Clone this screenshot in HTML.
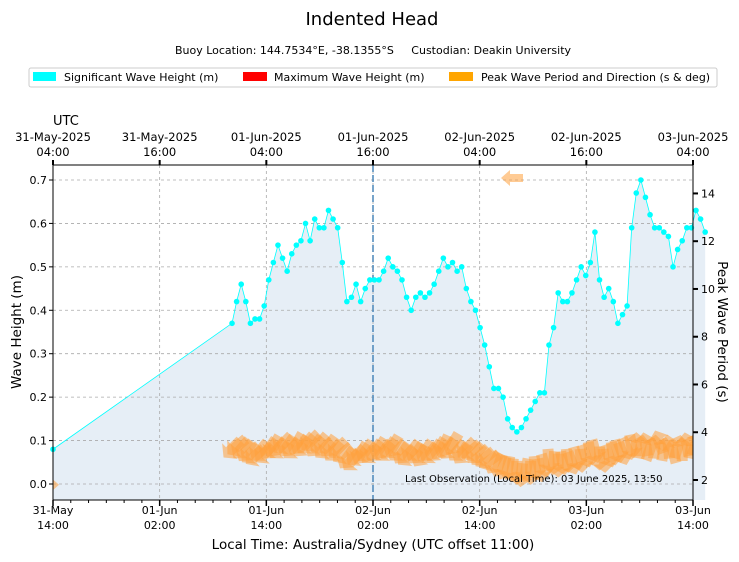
<!DOCTYPE html>
<html><head><meta charset="utf-8"><style>
html,body{margin:0;padding:0;background:#fff;}
svg{display:block;font-family:"DejaVu Sans","Liberation Sans",sans-serif;}
</style></head><body>
<svg id="chart" width="739" height="562" viewBox="0 0 739 562" xmlns="http://www.w3.org/2000/svg">
<text x="372" y="25" font-size="18" text-anchor="middle">Indented Head</text>
<text x="373" y="54" font-size="11" text-anchor="middle">Buoy Location: 144.7534°E, -38.1355°S &#160;&#160;&#160; Custodian: Deakin University</text>
<g>
<rect x="29" y="68" width="688" height="19" rx="2" fill="#fff" stroke="#ccc"/>
<rect x="33" y="72" width="23" height="9" fill="#00ffff"/>
<text x="64" y="81" font-size="11">Significant Wave Height (m)</text>
<rect x="243" y="72" width="24" height="9" fill="#ff0000"/>
<text x="274" y="81" font-size="11">Maximum Wave Height (m)</text>
<rect x="449" y="72" width="24" height="9" fill="#ffa500"/>
<text x="481" y="81" font-size="11">Peak Wave Period and Direction (s &amp; deg)</text>
</g>
<text x="53" y="125" font-size="13">UTC</text>
<g id="plot"></g>
</svg>
<script>
const heights = [0.08,
0.37,0.42,0.46,0.42,0.37,0.38,0.38,0.41,0.47,0.51,0.55,0.52,0.49,0.53,0.55,0.56,0.60,0.56,0.61,0.59,0.59,0.63,0.61,0.59,0.51,0.42,0.43,0.46,0.42,0.45,0.47,0.47,0.47,0.49,0.52,0.50,0.49,0.47,0.43,0.40,0.43,0.44,0.43,0.44,0.46,0.49,0.52,0.50,0.51,0.49,0.50,
0.45,0.42,0.40,0.36,0.32,0.27,0.22,0.22,0.20,0.15,0.13,0.12,0.13,0.15,0.17,0.19,0.21,0.21,0.32,0.36,0.44,0.42,0.42,0.44,0.47,0.50,0.48,0.51,0.58,0.47,0.43,0.45,0.42,0.37,0.39,0.41,0.59,0.67,0.70,0.66,0.62,0.59,0.59,0.58,0.57,0.50,0.54,0.56,0.59,0.59,0.63,0.61,0.58];
const periods = [1.8,
3.3,3.4,3.3,3.2,3.1,3.0,3.2,3.1,3.3,3.4,3.3,3.5,3.4,3.3,3.5,3.4,3.5,3.6,3.4,3.5,3.3,3.4,3.2,3.3,3.1,2.9,2.8,3.0,3.1,3.2,3.1,3.2,3.3,3.2,3.3,3.4,3.2,3.1,3.0,3.2,3.1,3.0,3.2,3.1,3.2,3.3,3.4,3.3,3.5,3.2,3.1,
3.3,3.2,3.1,3.0,2.9,2.8,2.7,2.6,2.5,2.5,2.4,2.3,2.2,2.4,2.3,2.5,2.4,2.6,2.8,2.7,2.6,2.7,2.8,2.7,2.9,2.8,3.0,3.1,3.2,2.9,2.8,3.0,3.1,3.2,3.1,3.3,3.4,3.5,3.4,3.5,3.3,3.4,3.6,3.3,3.4,3.2,3.4,3.3,3.5,3.4,3.5,3.4];
const directions = [90,
225,230,220,215,225,230,220,225,215,210,220,225,215,220,210,215,220,225,215,220,225,215,220,225,230,215,220,225,210,215,220,215,210,220,215,210,220,215,225,220,215,210,215,220,215,210,205,215,210,220,215,
225,230,220,225,230,235,210,200,195,190,185,180,185,190,180,175,170,165,175,185,180,170,175,160,165,175,160,170,165,180,175,160,170,165,160,155,170,0,10,350,20,5,340,10,355,345,15,0,350,10,20,5];
const hwDataStartHour = 0;
const clusterStartHour = 20.14;
const sampleIntervalHours = 0.5168;
const yTicks = [0.0,0.1,0.2,0.3,0.4,0.5,0.6,0.7];
const yTickLabels = ["0.0","0.1","0.2","0.3","0.4","0.5","0.6","0.7"];
const y2Ticks = [2,4,6,8,10,12,14];
const xTickHours = [0,12,24,36,48,60,72];
const xTickLabels = [["31-May","14:00"],["01-Jun","02:00"],["01-Jun","14:00"],["02-Jun","02:00"],["02-Jun","14:00"],["03-Jun","02:00"],["03-Jun","14:00"]];
const topTickLabels = [["31-May-2025","04:00"],["31-May-2025","16:00"],["01-Jun-2025","04:00"],["01-Jun-2025","16:00"],["02-Jun-2025","04:00"],["02-Jun-2025","16:00"],["03-Jun-2025","04:00"]];
const NS="http://www.w3.org/2000/svg";
const X0=53,X1=693,YT=165,YB=500;
const xs=h=>X0+h*(X1-X0)/72;
const ys=v=>484-v*434.3;
const ys2=p=>480-(p-2)*23.88;
const plot=document.getElementById('plot');
function el(tag,attrs,parent){const e=document.createElementNS(NS,tag);for(const k in attrs)e.setAttribute(k,attrs[k]);(parent||plot).appendChild(e);return e;}
const times=heights.map((_,i)=>i===0?hwDataStartHour:clusterStartHour+(i-1)*sampleIntervalHours);
let d=`M${xs(times[0])},${YB}`;times.forEach((t,i)=>d+=`L${xs(t)},${ys(heights[i])}`);d+=`L${xs(times[times.length-1])},${YB}Z`;
let f=el('path',{d:d,fill:'#e6eef6'});


yTicks.forEach(v=>{let g=el('line',{x1:X0,x2:X1,y1:ys(v),y2:ys(v),stroke:'#aaa','stroke-dasharray':'3,3','stroke-width':0.8});

});
xTickHours.forEach(h=>{let g=el('line',{x1:xs(h),x2:xs(h),y1:YT,y2:YB,stroke:'#aaa','stroke-dasharray':'3,3','stroke-width':0.8});

});
let nl=el('line',{x1:xs(36),x2:xs(36),y1:YT,y2:YB,stroke:'#4a86b8','stroke-dasharray':'7,3','stroke-width':1.5});


const clip=el('clipPath',{id:'pc'});el('rect',{x:X0,y:YT,width:X1-X0,height:YB-YT},clip);
const ag=el('g',{'clip-path':'url(#pc)'});
function arrow(cx,cy,ang,len,w,name,parent){
 const g=el('g',{transform:`translate(${cx},${cy}) rotate(${ang})`,opacity:0.55},parent);
 
 
 el('polygon',{points:`${-w/2},${len/2} ${w/2},${len/2} ${w/2},${-len/2+9} ${w},${-len/2+9} 0,${-len/2} ${-w},${-len/2+9} ${-w/2},${-len/2+9}`,fill:'#ffa03c'},g);
}
times.forEach((t,i)=>{if(periods[i]===undefined||directions[i]===undefined)return;arrow(xs(t),ys2(periods[i]),directions[i],i===0?12:24,i===0?8:11,'period-arrow',ag);});
arrow(512,178,270,22,8,'period-arrow-outlier');
let ld='';times.forEach((t,i)=>ld+=(i?'L':'M')+xs(t)+','+ys(heights[i]));
let ln=el('path',{d:ld,fill:'none',stroke:'#00ffff','stroke-width':0.8});


times.forEach((t,i)=>{let c=el('circle',{cx:xs(t),cy:ys(heights[i]),r:2.8,fill:'#00ffff'});

});
let fr=el('rect',{x:X0,y:YT,width:X1-X0,height:YB-YT,fill:'none',stroke:'#000','stroke-width':1});


yTicks.forEach((v,i)=>{el('line',{x1:X0-4,x2:X0,y1:ys(v),y2:ys(v),stroke:'#000'});
let t=el('text',{x:X0-6,y:ys(v)+4,'font-size':11,'text-anchor':'end'});t.textContent=yTickLabels[i];

});
y2Ticks.forEach(p=>{el('line',{x1:X1,x2:X1+5,y1:ys2(p),y2:ys2(p),stroke:'#000','stroke-width':2});
let t=el('text',{x:X1+8,y:ys2(p)+4,'font-size':11});t.textContent=p;

});
for(let h=0;h<=72;h+=2){el('line',{x1:xs(h),x2:xs(h),y1:YB,y2:YB+3,stroke:'#000'});}
xTickHours.forEach((h,i)=>{el('line',{x1:xs(h),x2:xs(h),y1:YB,y2:YB+6,stroke:'#000','stroke-width':1.5});
let t=el('text',{x:xs(h),y:YB+14,'font-size':11,'text-anchor':'middle'});t.textContent=xTickLabels[i][0];


let t2=el('text',{x:xs(h),y:YB+29,'font-size':11,'text-anchor':'middle'});t2.textContent=xTickLabels[i][1];

});
topTickLabels.forEach((lab,i)=>{const x=X0+i*(X1-X0)/6;
el('line',{x1:x,x2:x,y1:YT-5,y2:YT,stroke:'#000','stroke-width':2});
let t=el('text',{x:x,y:141,'font-size':11.5,'text-anchor':'middle'});t.textContent=lab[0];


let t2=el('text',{x:x,y:156,'font-size':11.5,'text-anchor':'middle'});t2.textContent=lab[1];

});
let lo=el('text',{x:405,y:482,'font-size':10});lo.textContent='Last Observation (Local Time): 03 June 2025, 13:50';


let xt=el('text',{x:373,y:549,'font-size':13.5,'text-anchor':'middle'});xt.textContent='Local Time: Australia/Sydney (UTC offset 11:00)';


let yt=el('text',{x:0,y:0,'font-size':13.5,'text-anchor':'middle',transform:'translate(21,332) rotate(-90)'});yt.textContent='Wave Height (m)';


let y2t=el('text',{x:0,y:0,'font-size':13.5,'text-anchor':'middle',transform:'translate(718,332) rotate(90)'});y2t.textContent='Peak Wave Period (s)';


</script>
</body></html>
